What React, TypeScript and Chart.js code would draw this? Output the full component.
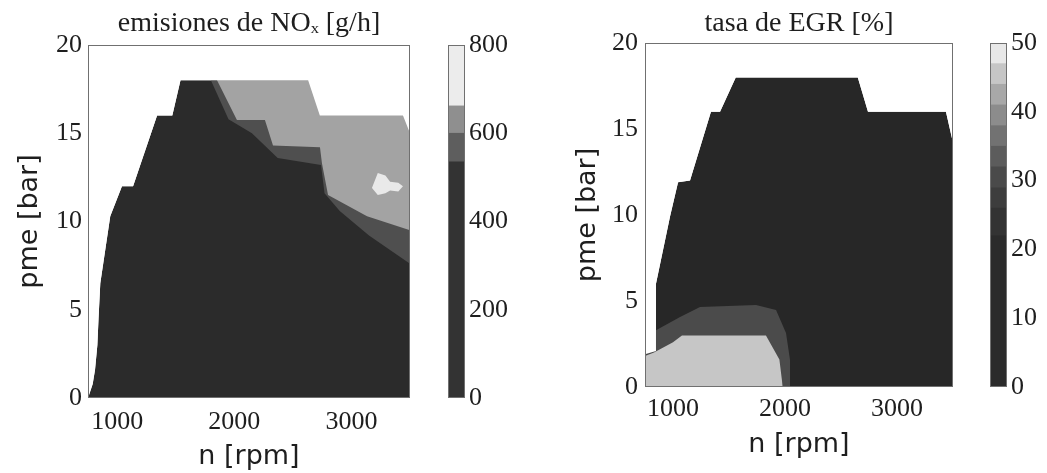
import React, { useEffect, useRef } from "react";
import { Chart, registerables } from "chart.js";

Chart.register(...registerables);

// ---------- text ----------
const noxTitle = "emisiones de NOₓ [g/h]";
const egrTitle = "tasa de EGR [%]";
const xTitle = "n [rpm]";
const yTitle = "pme [bar]";

// ---------- tick labels ----------
const xTicks = [1000, 2000, 3000];
const yTicks = [0, 5, 10, 15, 20];
const noxBarTicks = [0, 200, 400, 600, 800];
const egrBarTicks = [0, 10, 20, 30, 40, 50];

// ---------- NOx map (rpm, bar) ----------
const noxEnvRpm = [750, 790, 810, 830, 840, 855, 940, 1040, 1135, 1340, 1470, 1540, 2630, 2730, 3440, 3500, 3500];
const noxEnvPme = [0, 0.8, 1.6, 3.0, 4.5, 6.5, 10.3, 12, 12, 16, 16, 18, 18, 16, 16, 15, 0];
const noxMidRpm = [1800, 1950, 2150, 2370, 2740, 2770, 2900, 3150, 3500];
const noxMidPme = [18, 15.8, 15.0, 13.6, 13.2, 11.6, 10.6, 9.2, 7.6];
const noxHighRpm = [1852, 2022, 2261, 2330, 2731, 2748, 2800, 3133, 3500];
const noxHighPme = [18, 15.75, 15.75, 14.3, 14.2, 13.3, 11.5, 10.3, 9.5];
const noxPeakRpm = [3175, 3225, 3290, 3330, 3400, 3440];
const noxPeakTop = [11.9, 12.75, 12.6, 12.25, 12.2, 12.0];
const noxPeakBot = [11.9, 11.5, 11.6, 11.75, 11.7, 12.0];

// ---------- EGR map (rpm, bar) ----------
const egrEnvRpm = [750, 750, 848, 848, 973, 1045, 1152, 1339, 1420, 1560, 2650, 2741, 3437, 3500, 3500];
const egrEnvPme = [0, 1.9, 2.1, 6.0, 9.9, 11.9, 12, 16, 16, 18, 18, 16, 16, 14.2, 0];
const egrMidRpm = [750, 848, 1063, 1241, 1741, 1920, 2009, 2045, 2045];
const egrMidPme = [3.2, 3.3, 4.07, 4.65, 4.77, 4.48, 3.14, 1.57, 0];
const egrHighRpm = [750, 830, 1000, 1080, 1830, 1950, 1980];
const egrHighPme = [1.8, 2.0, 2.6, 3.0, 3.0, 1.6, 0];

// ---------- colour bars ----------
const noxBarLevels = [0, 535, 600, 662, 800];
const noxBarColors = ["#333333", "#5e5e5e", "#8f8f8f", "#ececec"];
const egrBarLevels = [0, 22, 26, 29, 32, 35, 38, 41, 44, 47, 50];
const egrBarColors = ["#2b2b2b", "#333333", "#3d3d3d", "#4a4a4a", "#5c5c5c", "#727272", "#8c8c8c", "#a8a8a8", "#c6c6c6", "#e8e8e8"];

const W = 1047;
const H = 473;
const serif = "'Liberation Serif', 'Times New Roman', serif";
const sans = "'DejaVu Sans', 'Liberation Sans', sans-serif";
const ink = "#1e1e1e";

const pts = (xs: number[], ys: number[]) => xs.map((x, i) => ({ x, y: ys[i] }));
const setTicks = (values: number[]) => (scale: any) => {
  scale.ticks = values.map((v) => ({ value: v }));
};

const framePlugin = {
  id: "frame",
  afterDatasetsDraw(chart: any) {
    const { ctx, chartArea: a } = chart;
    ctx.save();
    ctx.strokeStyle = "#707070";
    ctx.lineWidth = 1;
    ctx.strokeRect(Math.round(a.left) + 0.5, Math.round(a.top) + 0.5, Math.round(a.width) - 1, Math.round(a.height) - 1);
    ctx.restore();
  },
};

function area(data: any[], color: string, fill: any, order: number) {
  return {
    data,
    fill,
    order,
    backgroundColor: color,
    borderColor: "rgba(0,0,0,0)",
    borderWidth: 0,
    pointRadius: 0,
    pointHoverRadius: 0,
    tension: 0,
  };
}

type Geo = {
  cl: number; cw: number; pl: number; pr: number; pt: number; pb: number;
  titleCenter: number; yTitlePad: number; xTitlePad: number; xTickPad: number; yTickPad: number;
};

function mainConfig(g: Geo, title: string, datasets: any[]) {
  const tSize = 28;
  const tLH = tSize * 1.2;
  const tTop = g.titleCenter - tLH / 2;
  return {
    type: "line",
    data: { datasets },
    options: {
      responsive: false,
      animation: false,
      events: [],
      layout: { padding: { left: 0, top: 0, bottom: 0, right: g.cl + g.cw - g.pr } },
      plugins: {
        legend: { display: false },
        tooltip: { enabled: false },
        title: {
          display: true,
          fullSize: false,
          text: title,
          color: ink,
          font: { family: serif, size: tSize, weight: "normal" },
          padding: { top: tTop, bottom: g.pt - tTop - tLH },
        },
      },
      scales: {
        x: {
          type: "linear",
          min: 750,
          max: 3500,
          afterBuildTicks: setTicks(xTicks),
          afterFit: (s: any) => { s.height = H - g.pb; },
          grid: { display: false, drawTicks: false },
          border: { display: false },
          ticks: { font: { family: serif, size: 26 }, color: ink, padding: g.xTickPad, maxRotation: 0, callback: (v: any) => String(v) },
          title: { display: true, text: xTitle, color: ink, font: { family: sans, size: 27 }, padding: { top: 0, bottom: g.xTitlePad } },
        },
        y: {
          type: "linear",
          min: 0,
          max: 20,
          afterBuildTicks: setTicks(yTicks),
          afterFit: (s: any) => { s.width = g.pl - g.cl; },
          grid: { display: false, drawTicks: false },
          border: { display: false },
          ticks: { font: { family: serif, size: 26 }, color: ink, padding: g.yTickPad, callback: (v: any) => String(v) },
          title: { display: true, text: yTitle, color: ink, font: { family: sans, size: 27 }, padding: { top: g.yTitlePad, bottom: 0 } },
        },
      },
    },
    plugins: [framePlugin],
  };
}

function barConfig(cw: number, barW: number, pt: number, pb: number, levels: number[], colors: string[], ticks: number[]) {
  return {
    type: "bar",
    data: {
      labels: [""],
      datasets: colors.map((c, i) => ({
        data: [[levels[i], levels[i + 1]]],
        backgroundColor: c,
        borderWidth: 0,
        grouped: false,
        barPercentage: 1,
        categoryPercentage: 1,
      })),
    },
    options: {
      responsive: false,
      animation: false,
      events: [],
      layout: { padding: { left: 0, right: 0, top: pt, bottom: H - pb } },
      plugins: { legend: { display: false }, tooltip: { enabled: false } },
      scales: {
        x: { display: false },
        y: {
          position: "right",
          min: levels[0],
          max: levels[levels.length - 1],
          afterBuildTicks: setTicks(ticks),
          afterFit: (s: any) => { s.width = cw - barW; },
          grid: { display: false, drawTicks: false },
          border: { display: false },
          ticks: { font: { family: serif, size: 26 }, color: ink, padding: 4, callback: (v: any) => String(v) },
        },
      },
    },
    plugins: [framePlugin],
  };
}

function ChartCanvas({ left, width, make }: { left: number; width: number; make: () => any }) {
  const ref = useRef<HTMLCanvasElement>(null);
  useEffect(() => {
    const chart = new Chart(ref.current as HTMLCanvasElement, make());
    return () => chart.destroy();
  }, []);
  return (
    <canvas
      ref={ref}
      width={width}
      height={H}
      style={{ position: "absolute", left, top: 0, width, height: H, display: "block" }}
    />
  );
}

const noxGeo: Geo = { cl: 0, cw: 482, pl: 88, pr: 410, pt: 45, pb: 398, titleCenter: 24, yTitlePad: 14, xTitlePad: 0, xTickPad: 9, yTickPad: 6 };
const egrGeo: Geo = { cl: 560, cw: 482, pl: 645, pr: 953, pt: 43, pb: 387, titleCenter: 24, yTitlePad: 12, xTitlePad: 12, xTickPad: 7, yTickPad: 7 };

const makeNox = () =>
  mainConfig(noxGeo, noxTitle, [
    area(pts(noxEnvRpm, noxEnvPme), "#2b2b2b", "origin", 6),
    area(pts(noxMidRpm, noxMidPme), "#4f4f4f", "end", 5),
    area(pts(noxHighRpm, noxHighPme), "#a3a3a3", "end", 4),
    area(pts(noxPeakRpm, noxPeakTop), "#e9e9e9", 4, 3),
    area(pts(noxPeakRpm, noxPeakBot), "#e9e9e9", false, 3),
    area(pts(noxEnvRpm, noxEnvPme), "#ffffff", "end", 1),
  ]);

const makeEgr = () =>
  mainConfig(egrGeo, egrTitle, [
    area(pts(egrEnvRpm, egrEnvPme), "#272727", "origin", 5),
    area(pts(egrMidRpm, egrMidPme), "#4b4b4b", "origin", 4),
    area(pts(egrHighRpm, egrHighPme), "#c6c6c6", "origin", 3),
    area(pts(egrEnvRpm, egrEnvPme), "#ffffff", "end", 1),
  ]);

const makeNoxBar = () => barConfig(80, 17, 45, 398, noxBarLevels, noxBarColors, noxBarTicks);
const makeEgrBar = () => barConfig(57, 17, 43, 387, egrBarLevels, egrBarColors, egrBarTicks);

export default function App() {
  return (
    <div style={{ position: "absolute", left: 0, top: 0, width: W, height: H, background: "#ffffff", overflow: "hidden" }}>
      <ChartCanvas left={0} width={482} make={makeNox} />
      <ChartCanvas left={560} width={482} make={makeEgr} />
      <ChartCanvas left={448} width={80} make={makeNoxBar} />
      <ChartCanvas left={990} width={57} make={makeEgrBar} />
    </div>
  );
}
